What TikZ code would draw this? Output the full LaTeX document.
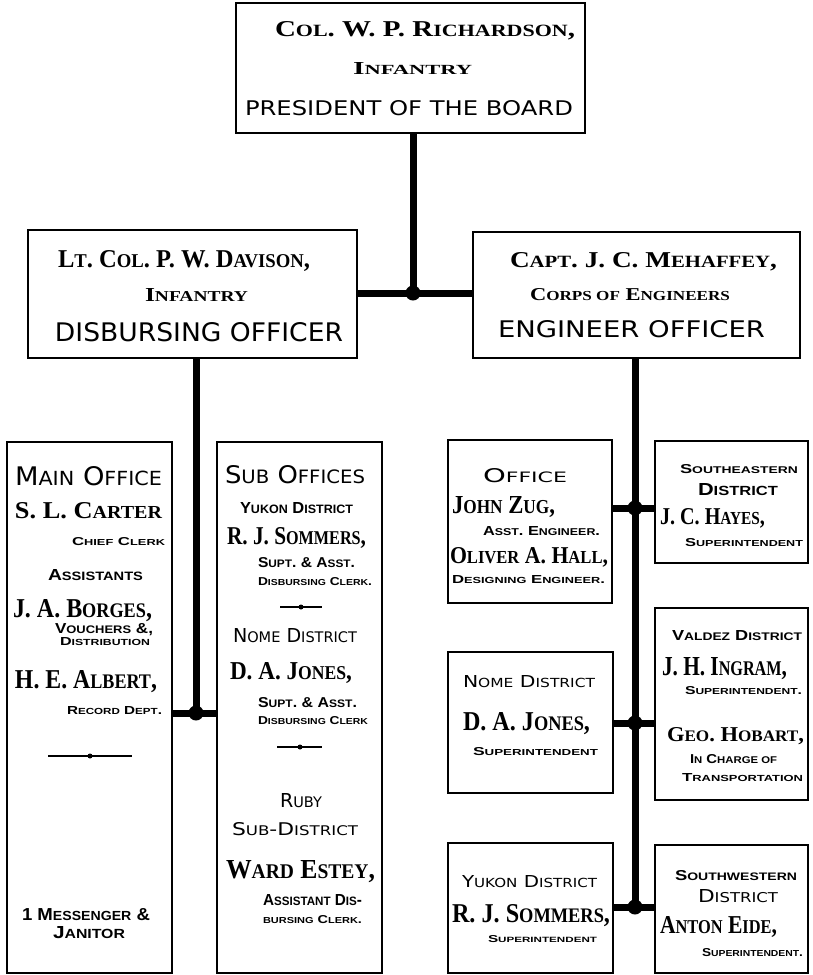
\documentclass[tikz,border=0pt]{standalone}
\usepackage{fontspec}
\newfontfamily\nmf{Liberation Serif}
\newfontfamily\ssf{Liberation Sans}
\newfontfamily\hdf{DejaVu Sans}
\makeatletter
\newcommand\lc[1]{{\fontsize{\fpeval{0.76*\f@size}}{\fpeval{0.76*\f@size}}\selectfont\MakeUppercase{#1}}}
\makeatother
\newcommand\fitt[3]{\resizebox{#1pt}{#2pt}{#3}}
\newcommand\NM{\nmf\bfseries\fontsize{20}{20}\selectfont}
\newcommand\TT{\hdf\fontsize{20}{20}\selectfont}
\newcommand\CP{\ssf\bfseries\fontsize{20}{20}\selectfont}
\tikzset{
  box/.style={draw, line width=2.8pt, inner sep=0pt, minimum width=#1},
  conn/.style={line width=7pt},
  jdot/.style={circle, fill, inner sep=0pt, minimum size=15pt},
  sdot/.style={circle, fill, inner sep=0pt, minimum size=5pt},
  txt/.style={inner sep=0pt, outer sep=0pt, anchor=base west},
  divline/.style={line width=2.2pt},
}
\begin{document}
\begin{tikzpicture}[x=1pt,y=-1pt]
\useasboundingbox (0,0) rectangle (812,975);
% boxes
\node[box=349pt, minimum height=130pt] (top) at (410.5,68) {};
\node[box=329pt, minimum height=128pt] (dav) at (192.5,294) {};
\node[box=327pt, minimum height=126pt] (meh) at (636.5,295) {};
\node[box=165pt, minimum height=531pt] (main) at (89.5,707.5) {};
\node[box=165pt, minimum height=531pt] (sub) at (299.5,707.5) {};
\node[box=164pt, minimum height=163pt] (office) at (530,521.5) {};
\node[box=153pt, minimum height=122pt] (se) at (731.5,502) {};
\node[box=165pt, minimum height=141pt] (nome) at (530.5,722.5) {};
\node[box=153pt, minimum height=192pt] (valdez) at (731.5,704) {};
\node[box=165pt, minimum height=130pt] (yukon) at (530.5,908) {};
\node[box=153pt, minimum height=128pt] (sw) at (731.5,909) {};
% junctions
\coordinate (j0) at (413,293);
\coordinate (jl) at (196,713);
\coordinate (jr1) at (635,508);
\coordinate (jr2) at (635,723);
\coordinate (jr3) at (635,907);
% connectors
\draw[conn] (j0 |- top.south) -- (j0);
\draw[conn] (dav.east |- j0) -- (meh.west |- j0);
\draw[conn] (jl |- dav.south) -- (jl);
\draw[conn] (main.east |- jl) -- (sub.west |- jl);
\draw[conn] (jr1 |- meh.south) -- (jr3);
\draw[conn] (office.east |- jr1) -- (se.west |- jr1);
\draw[conn] (nome.east |- jr2) -- (valdez.west |- jr2);
\draw[conn] (yukon.east |- jr3) -- (sw.west |- jr3);
\foreach \j in {j0,jl,jr1,jr2,jr3} \node[jdot] at (\j) {};
% dividers
\coordinate (dv1a) at (48,756); \coordinate (dv1b) at (132,756);
\draw[divline] (dv1a) -- (dv1b); \node[sdot] (dv1) at (90,756) {};
\coordinate (dv2a) at (280,607); \coordinate (dv2b) at (322,607);
\draw[divline] (dv2a) -- (dv2b); \node[sdot] (dv2) at (301,607) {};
\coordinate (dv3a) at (277,747); \coordinate (dv3b) at (322,747);
\draw[divline] (dv3a) -- (dv3b); \node[sdot] (dv3) at (300,747) {};
% top box text
\node[txt] (t1) at (275,36) {\fitt{300}{15}{\NM C\lc{ol}. W. P. R\lc{ichardson},}};
\node[txt] (t2) at (353,74) {\fitt{119}{12}{\NM I\lc{nfantry}}};
\node[txt] (t3) at (245,115) {\fitt{328}{15}{\TT PRESIDENT OF THE BOARD}};
% Davison
\node[txt] (d1) at (58,267) {\fitt{252}{17}{\NM L\lc{t}. C\lc{ol}. P. W. D\lc{avison},}};
\node[txt] (d2) at (145,301) {\fitt{103}{13}{\NM I\lc{nfantry}}};
\node[txt] (d3) at (55,341) {\fitt{288}{19}{\TT DISBURSING OFFICER}};
% Mehaffey
\node[txt] (m1) at (510,267) {\fitt{267}{15}{\NM C\lc{apt}. J. C. M\lc{ehaffey},}};
\node[txt] (m2) at (530,300) {\fitt{200}{12}{\NM C\lc{orps of} E\lc{ngineers}}};
\node[txt] (m3) at (498,337) {\fitt{267}{17}{\TT ENGINEER OFFICER}};
% Main office
\node[txt] (a1) at (15,485) {\fitt{147}{19}{\TT M\lc{ain} O\lc{ffice}}};
\node[txt] (a2) at (15,518) {\fitt{147}{16}{\NM S. L. C\lc{arter}}};
\node[txt] (a3) at (72,545) {\fitt{93}{8}{\CP C\lc{hief} C\lc{lerk}}};
\node[txt] (a4) at (48,580) {\fitt{95}{11}{\CP A\lc{ssistants}}};
\node[txt] (a5) at (13,617) {\fitt{139}{18}{\NM J. A. B\lc{orges},}};
\node[txt] (a6) at (55,633) {\fitt{98}{10}{\CP V\lc{ouchers} \&,}};
\node[txt] (a7) at (60,645) {\fitt{90}{8}{\CP D\lc{istribution}}};
\node[txt] (a8) at (15,688) {\fitt{142}{18}{\NM H. E. A\lc{lbert},}};
\node[txt] (a9) at (67,714) {\fitt{95}{8}{\CP R\lc{ecord} D\lc{ept}.}};
\node[txt] (a10) at (22,920) {\fitt{128}{12}{\CP 1 M\lc{essenger} \&}};
\node[txt] (a11) at (53,938) {\fitt{72}{12}{\CP J\lc{anitor}}};
% Sub offices
\node[txt] (b1) at (225,483) {\fitt{140}{18}{\TT S\lc{ub} O\lc{ffices}}};
\node[txt] (b2) at (240,513) {\fitt{113}{11}{\CP Y\lc{ukon} D\lc{istrict}}};
\node[txt] (b3) at (227,544) {\fitt{139}{17}{\NM R. J. S\lc{ommers},}};
\node[txt] (b4) at (258,567) {\fitt{97}{10}{\CP S\lc{upt}. \& A\lc{sst}.}};
\node[txt] (b5) at (258,585) {\fitt{114}{8}{\CP D\lc{isbursing} C\lc{lerk}.}};
\node[txt] (b7) at (233,642) {\fitt{124}{14}{\TT N\lc{ome} D\lc{istrict}}};
\node[txt] (b8) at (230,679) {\fitt{122}{17}{\NM D. A. J\lc{ones},}};
\node[txt] (b9) at (258,707) {\fitt{99}{10}{\CP S\lc{upt}. \& A\lc{sst}.}};
\node[txt] (b10) at (258,724) {\fitt{110}{8}{\CP D\lc{isbursing} C\lc{lerk}}};
\node[txt] (b12) at (280,807) {\fitt{42}{14}{\TT R\lc{uby}}};
\node[txt] (b13) at (232,835) {\fitt{126}{13}{\TT S\lc{ub}-D\lc{istrict}}};
\node[txt] (b14) at (226,878) {\fitt{149}{18}{\NM W\lc{ard} E\lc{stey},}};
\node[txt] (b15) at (263,905) {\fitt{99}{11}{\CP A\lc{ssistant} D\lc{is}-}};
\node[txt] (b16) at (263,923) {\fitt{99}{8}{\CP \lc{bursing} C\lc{lerk}.}};
% Office
\node[txt] (c1) at (483,482) {\fitt{84}{14}{\TT O\lc{ffice}}};
\node[txt] (c2) at (452,513) {\fitt{103}{17}{\NM J\lc{ohn} Z\lc{ug},}};
\node[txt] (c3) at (483,535) {\fitt{117}{9}{\CP A\lc{sst}. E\lc{ngineer}.}};
\node[txt] (c4) at (450,563) {\fitt{158}{16}{\NM O\lc{liver} A. H\lc{all},}};
\node[txt] (c5) at (452,583) {\fitt{153}{8}{\CP D\lc{esigning} E\lc{ngineer}.}};
% Southeastern
\node[txt] (e1) at (680,473) {\fitt{118}{9}{\CP S\lc{outheastern}}};
\node[txt] (e2) at (698,495) {\fitt{80}{12}{\CP D\lc{istrict}}};
\node[txt] (e3) at (660,524) {\fitt{105}{16}{\NM J. C. H\lc{ayes},}};
\node[txt] (e4) at (685,546) {\fitt{118}{8}{\CP S\lc{uperintendent}}};
% Nome
\node[txt] (n1) at (463,687) {\fitt{132}{12}{\TT N\lc{ome} D\lc{istrict}}};
\node[txt] (n2) at (463,730) {\fitt{127}{18}{\NM D. A. J\lc{ones},}};
\node[txt] (n3) at (473,755) {\fitt{125}{8}{\CP S\lc{uperintendent}}};
% Valdez
\node[txt] (v1) at (672,640) {\fitt{130}{10}{\CP V\lc{aldez} D\lc{istrict}}};
\node[txt] (v2) at (662,675) {\fitt{125}{18}{\NM J. H. I\lc{ngram},}};
\node[txt] (v3) at (685,694) {\fitt{117}{8}{\CP S\lc{uperintendent}.}};
\node[txt] (v4) at (667,741) {\fitt{137}{14}{\NM G\lc{eo}. H\lc{obart},}};
\node[txt] (v5) at (690,763) {\fitt{87}{9}{\CP I\lc{n} C\lc{harge of}}};
\node[txt] (v6) at (682,781) {\fitt{121}{8}{\CP T\lc{ransportation}}};
% Yukon
\node[txt] (y1) at (462,887) {\fitt{135}{12}{\TT Y\lc{ukon} D\lc{istrict}}};
\node[txt] (y2) at (452,922) {\fitt{158}{18}{\NM R. J. S\lc{ommers},}};
\node[txt] (y3) at (488,942) {\fitt{109}{7}{\CP S\lc{uperintendent}}};
% Southwestern
\node[txt] (w1) at (675,880) {\fitt{122}{10}{\CP S\lc{outhwestern}}};
\node[txt] (w2) at (698,902) {\fitt{80}{13}{\TT D\lc{istrict}}};
\node[txt] (w3) at (660,933) {\fitt{117}{17}{\NM A\lc{nton} E\lc{ide},}};
\node[txt] (w4) at (702,956) {\fitt{101}{8}{\CP S\lc{uperintendent}.}};
\end{tikzpicture}
\end{document}
